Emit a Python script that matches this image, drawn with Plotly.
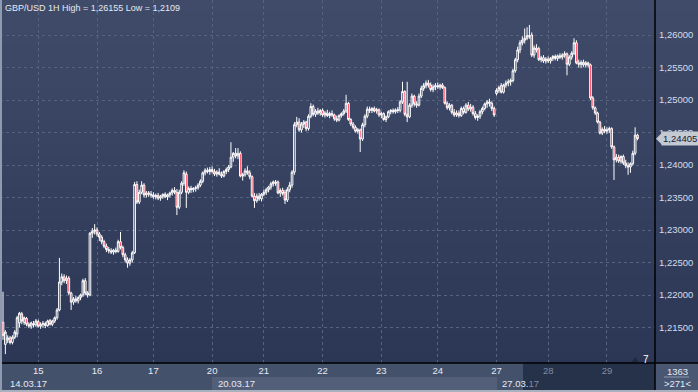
import plotly.graph_objects as go

# ---------------- DATA (GBP/USD, 1H bars, 14.03.17 - 29.03.17) ----------------
opens = [
    1.2158,1.2124,1.2131,1.2134,1.2127,1.2135,1.2140,1.2157,1.2171,1.2158,1.2164,1.2155,1.2152,1.2156,1.2154,
    1.2159,1.2152,1.2155,1.2156,1.2153,1.2161,1.2155,1.2160,1.2165,1.2177,1.2220,1.2228,1.2222,1.2226,1.2203,1.2189,1.2194,1.2191,1.2196,1.2200,1.2222,1.2203,1.2200,1.2295,1.2298,
    1.2300,1.2294,1.2289,1.2282,1.2275,1.2270,1.2268,1.2266,1.2269,1.2267,1.2282,1.2273,1.2262,1.2254,1.2249,1.2254,1.2265,1.2370,1.2343,1.2358,1.2369,1.2354,1.2357,1.2355,
    1.2354,1.2351,1.2353,1.2349,1.2352,1.2355,1.2351,1.2354,1.2357,1.2361,1.2358,1.2335,1.2358,1.2372,1.2386,1.2358,1.2364,1.2362,1.2364,1.2365,1.2369,1.2375,1.2388,1.2392,1.2390,
    1.2393,1.2390,1.2386,1.2389,1.2386,1.2383,1.2390,1.2393,1.2397,1.2412,1.2418,1.2414,1.2418,1.2383,1.2385,1.2391,1.2388,1.2382,1.2352,1.2345,1.2352,1.2348,
    1.2355,1.2358,1.2362,1.2366,1.2371,1.2374,1.2374,1.2357,1.2361,1.2358,1.2346,1.2362,1.2369,1.2389,1.2462,1.2466,1.2454,1.2463,1.2466,1.2456,1.2475,1.2490,1.2478,1.2483,1.2480,
    1.2484,1.2477,1.2480,1.2476,1.2479,1.2477,1.2471,1.2469,1.2476,1.2479,1.2483,1.2495,1.2470,1.2463,1.2458,1.2452,1.2454,1.2440,1.2462,1.2475,1.2486,1.2484,1.2487,1.2483,1.2485,
    1.2477,1.2479,1.2470,1.2474,1.2482,1.2484,1.2482,1.2485,1.2484,1.2497,1.2513,1.2478,1.2474,1.2492,1.2506,1.2494,1.2492,1.2506,1.2518,1.2522,1.2526,1.2523,1.2516,1.2520,
    1.2522,1.2520,1.2523,1.2519,1.2495,1.2488,1.2492,1.2481,1.2477,1.2480,1.2476,1.2487,1.2481,1.2492,1.2486,1.2489,1.2479,1.2473,1.2475,1.2482,1.2487,1.2494,1.2497,1.2495,1.2487,
    1.2510,1.2515,1.2522,1.2512,1.2523,1.2526,1.2528,1.2530,1.2545,1.2562,1.2577,1.2588,1.2592,1.2595,1.2599,1.2600,1.2569,1.2580,1.2579,1.2562,1.2565,1.2560,
    1.2563,1.2560,1.2564,1.2567,1.2564,1.2568,1.2566,1.2569,1.2571,1.2555,1.2566,1.2572,1.2588,1.2557,1.2555,1.2558,1.2554,1.2557,1.2554,1.2503,1.2488,1.2480,1.2466,1.2449,1.2455,
    1.2452,1.2454,1.2456,1.2428,1.2408,1.2412,1.2406,1.2413,1.2403,1.2399,1.2397,1.2402,1.2418,1.2446,
]
highs = [
    1.2205,1.2146,1.2138,1.2137,1.2138,1.2146,1.2168,1.2174,1.2174,1.2167,1.2166,1.2158,1.2159,1.2160,1.2163,
    1.2162,1.2158,1.2160,1.2159,1.2162,1.2163,1.2162,1.2167,1.2180,1.2257,1.2233,1.2232,1.2230,1.2229,1.2205,1.2197,1.2199,1.2198,1.2202,1.2225,1.2226,1.2206,1.2297,1.2303,1.2309,
    1.2304,1.2297,1.2292,1.2285,1.2279,1.2274,1.2272,1.2271,1.2273,1.2285,1.2297,1.2276,1.2265,1.2258,1.2257,1.2268,1.2374,1.2375,1.2362,1.2375,1.2372,1.2360,1.2360,1.2360,
    1.2358,1.2356,1.2357,1.2354,1.2356,1.2358,1.2356,1.2359,1.2364,1.2366,1.2363,1.2362,1.2375,1.2392,1.2390,1.2367,1.2368,1.2366,1.2368,1.2372,1.2378,1.2390,1.2395,1.2396,1.2397,
    1.2398,1.2394,1.2392,1.2395,1.2390,1.2392,1.2396,1.2400,1.2435,1.2420,1.2426,1.2426,1.2421,1.2388,1.2395,1.2398,1.2392,1.2384,1.2357,1.2356,1.2357,1.2357,
    1.2362,1.2365,1.2368,1.2374,1.2376,1.2377,1.2376,1.2364,1.2365,1.2362,1.2366,1.2374,1.2392,1.2466,1.2474,1.2472,1.2466,1.2469,1.2468,1.2478,1.2495,1.2493,1.2486,1.2488,1.2486,
    1.2487,1.2483,1.2485,1.2482,1.2484,1.2479,1.2476,1.2478,1.2481,1.2486,1.2508,1.2497,1.2472,1.2466,1.2461,1.2457,1.2456,1.2465,1.2478,1.2490,1.2490,1.2489,1.2490,1.2488,1.2487,
    1.2482,1.2481,1.2476,1.2484,1.2486,1.2487,1.2487,1.2489,1.2500,1.2528,1.2515,1.2528,1.2495,1.2510,1.2508,1.2498,1.2510,1.2522,1.2526,1.2530,1.2531,1.2527,1.2524,1.2526,
    1.2527,1.2525,1.2526,1.2521,1.2498,1.2495,1.2494,1.2486,1.2484,1.2484,1.2490,1.2490,1.2495,1.2497,1.2494,1.2492,1.2483,1.2478,1.2485,1.2490,1.2496,1.2500,1.2502,1.2498,1.2490,
    1.2518,1.2522,1.2526,1.2525,1.2530,1.2532,1.2533,1.2548,1.2565,1.2582,1.2592,1.2598,1.2610,1.2612,1.26155,1.2604,1.2584,1.2586,1.2582,1.2568,1.2569,1.2566,
    1.2567,1.2566,1.2569,1.2570,1.2570,1.2572,1.2572,1.2575,1.2573,1.2569,1.2575,1.2595,1.2592,1.2562,1.2561,1.2562,1.2560,1.2559,1.2556,1.2506,1.2490,1.2482,1.2468,1.2458,1.2460,
    1.2458,1.2459,1.2458,1.2430,1.2417,1.2416,1.2415,1.2416,1.2408,1.2404,1.2404,1.2422,1.2458,1.2448,
]
lows = [
    1.2131,1.2109,1.2126,1.2124,1.2124,1.2132,1.2135,1.2150,1.2155,1.2154,1.2152,1.2149,1.2148,1.2150,1.2151,
    1.2150,1.2148,1.2150,1.2149,1.2151,1.2153,1.2152,1.2157,1.2162,1.2175,1.2215,1.2218,1.2217,1.2200,1.2177,1.2185,1.2188,1.2187,1.2192,1.2197,1.2200,1.2196,1.2198,1.2288,1.2293,
    1.2290,1.2283,1.2278,1.2272,1.2266,1.2264,1.2263,1.2262,1.2264,1.2265,1.2270,1.2258,1.2250,1.2242,1.2245,1.2250,1.2263,1.2340,1.2340,1.2355,1.2350,1.2350,1.2351,1.2350,
    1.2348,1.2347,1.2346,1.2345,1.2348,1.2349,1.2346,1.2350,1.2353,1.2355,1.2323,1.2332,1.2355,1.2368,1.2334,1.2355,1.2357,1.2358,1.2359,1.2362,1.2366,1.2372,1.2384,1.2387,1.2385,
    1.2387,1.2383,1.2382,1.2384,1.2380,1.2381,1.2386,1.2389,1.2395,1.2405,1.2410,1.2409,1.2381,1.2376,1.2382,1.2385,1.2378,1.2350,1.2334,1.2342,1.2345,1.2344,
    1.2352,1.2354,1.2358,1.2362,1.2367,1.2368,1.2355,1.2351,1.2353,1.2340,1.2343,1.2358,1.2365,1.2385,1.2458,1.2451,1.2450,1.2457,1.2452,1.2453,1.2472,1.2475,1.2474,1.2477,1.2476,
    1.2474,1.2473,1.2474,1.2472,1.2474,1.2468,1.2466,1.2467,1.2473,1.2476,1.2480,1.2468,1.2460,1.2455,1.2450,1.2448,1.2420,1.2437,1.2458,1.2472,1.2480,1.2480,1.2481,1.2479,1.2474,
    1.2472,1.2468,1.2466,1.2472,1.2478,1.2479,1.2479,1.2480,1.2481,1.2494,1.2475,1.2466,1.2472,1.2488,1.2490,1.2488,1.2490,1.2503,1.2514,1.2518,1.2519,1.2513,1.2512,1.2515,
    1.2517,1.2516,1.2517,1.2493,1.2485,1.2484,1.2478,1.2474,1.2474,1.2473,1.2474,1.2478,1.2479,1.2483,1.2482,1.2476,1.2470,1.2468,1.2471,1.2478,1.2484,1.2488,1.2490,1.2483,1.2474,
    1.2507,1.2511,1.2510,1.2510,1.2519,1.2521,1.2522,1.2527,1.2542,1.2558,1.2572,1.2584,1.2587,1.2592,1.2594,1.2566,1.2565,1.2573,1.2560,1.2558,1.2557,1.2556,
    1.2557,1.2556,1.2560,1.2561,1.2560,1.2563,1.2562,1.2565,1.2538,1.2552,1.2562,1.2569,1.2555,1.2550,1.2549,1.2551,1.2550,1.2550,1.2500,1.2485,1.2477,1.2464,1.2447,1.2446,1.2449,
    1.2448,1.2449,1.2425,1.2377,1.2404,1.2403,1.2402,1.2400,1.2395,1.2385,1.2388,1.2399,1.2415,1.2438,
]
closes = [
    1.2138,1.2143,1.2134,1.2127,1.2135,1.2143,1.2165,1.2172,1.2160,1.2165,1.2155,1.2152,1.2157,1.2154,1.2160,
    1.2152,1.2155,1.2156,1.2153,1.2160,1.2155,1.2160,1.2165,1.2177,1.2220,1.2228,1.2222,1.2226,1.2203,1.2189,1.2194,1.2191,1.2196,1.2200,1.2222,1.2203,1.2200,1.2295,1.2298,1.2300,
    1.2294,1.2289,1.2282,1.2275,1.2270,1.2268,1.2266,1.2269,1.2267,1.2282,1.2273,1.2262,1.2254,1.2249,1.2254,1.2265,1.2370,1.2343,1.2358,1.2369,1.2354,1.2357,1.2355,1.2354,
    1.2351,1.2353,1.2349,1.2352,1.2355,1.2351,1.2354,1.2357,1.2361,1.2358,1.2335,1.2358,1.2372,1.2388,1.2358,1.2364,1.2362,1.2364,1.2365,1.2369,1.2375,1.2388,1.2392,1.2390,1.2393,
    1.2390,1.2386,1.2389,1.2386,1.2383,1.2390,1.2393,1.2397,1.2412,1.2418,1.2414,1.2418,1.2383,1.2385,1.2391,1.2388,1.2382,1.2352,1.2345,1.2352,1.2348,1.2355,
    1.2358,1.2362,1.2366,1.2371,1.2374,1.2372,1.2357,1.2361,1.2356,1.2346,1.2362,1.2369,1.2389,1.2462,1.2466,1.2454,1.2463,1.2466,1.2456,1.2475,1.2490,1.2478,1.2483,1.2480,1.2484,
    1.2477,1.2480,1.2476,1.2479,1.2477,1.2471,1.2469,1.2476,1.2479,1.2483,1.2495,1.2470,1.2463,1.2458,1.2452,1.2454,1.2440,1.2462,1.2475,1.2486,1.2484,1.2487,1.2483,1.2485,1.2477,
    1.2479,1.2470,1.2474,1.2482,1.2484,1.2482,1.2485,1.2484,1.2497,1.2513,1.2478,1.2474,1.2492,1.2506,1.2494,1.2492,1.2506,1.2518,1.2522,1.2526,1.2523,1.2516,1.2520,1.2522,
    1.2520,1.2523,1.2519,1.2495,1.2488,1.2492,1.2481,1.2477,1.2480,1.2476,1.2487,1.2481,1.2492,1.2486,1.2489,1.2479,1.2473,1.2475,1.2482,1.2487,1.2494,1.2497,1.2495,1.2487,1.2477,
    1.2515,1.2519,1.2512,1.2523,1.2526,1.2528,1.2530,1.2545,1.2562,1.2577,1.2588,1.2592,1.2595,1.2599,1.2598,1.2569,1.2580,1.2577,1.2562,1.2565,1.2560,1.2563,
    1.2560,1.2564,1.2567,1.2564,1.2568,1.2566,1.2569,1.2571,1.2555,1.2566,1.2572,1.2588,1.2557,1.2555,1.2558,1.2554,1.2557,1.2554,1.2503,1.2488,1.2480,1.2466,1.2449,1.2455,1.2452,
    1.2454,1.2456,1.2428,1.2408,1.2412,1.2406,1.2413,1.2403,1.2399,1.2397,1.2402,1.2418,1.2446,1.24405,
]

# day boundaries (bar index where each day starts) and their labels
day_start_bars = [15, 40, 64, 89, 111, 136, 161, 185, 210, 232, 257]
day_labels = ["15", "16", "17", "20", "21", "22", "23", "24", "27", "28", "29"]
day_label_dim = [False] * 9 + [True, True]
week_labels = ["14.03.17", "20.03.17", "27.03.17"]
week_label_bars = [2, 90.5, 211.5]

price_ticks = [1.215, 1.220, 1.225, 1.230, 1.235, 1.240, 1.245, 1.250, 1.255, 1.260]
price_tick_text = ["1,21500", "1,22000", "1,22500", "1,23000", "1,23500",
                   "1,24000", "1,24500", "1,25000", "1,25500", "1,26000"]

title_text = "GBP/USD 1H High = 1,26155 Low = 1,2109"
counter_text = "1363"
scale_text = "7"

# ---------------- LAYOUT HELPERS ----------------
W, H = 698, 392
AXIS_X = 655   # px, right edge of plot area
AXIS_Y = 363   # px, bottom edge of plot area


def px(x):
    return x / W


def py(y):
    return 1 - y / H


FONT = "Liberation Sans, Arial, sans-serif"
TXT = "#e4eaf4"
DIM = "#7f8ba2"

n = len(closes)
fig = go.Figure()
fig.add_trace(go.Candlestick(
    x=list(range(n)), open=opens, high=highs, low=lows, close=closes,
    increasing=dict(line=dict(color="#ffffff", width=1), fillcolor="rgba(0,0,0,0)"),
    decreasing=dict(line=dict(color="#ffffff", width=1), fillcolor="#ff1030"),
    whiskerwidth=0, hoverinfo="skip", showlegend=False,
))

shapes = []
# vertical gradient background of the chart area (incl. price scale)
top = (0x3f, 0x4b, 0x68)
bot = (0x2b, 0x37, 0x55)
nb = 33
for i in range(nb):
    t = i / (nb - 1)
    c = tuple(round(top[k] + (bot[k] - top[k]) * t) for k in range(3))
    y0 = AXIS_Y * i / nb
    y1 = AXIS_Y * (i + 1) / nb + 0.6
    shapes.append(dict(type="rect", xref="paper", yref="paper", x0=0, x1=1,
                       y0=py(y1), y1=py(y0), fillcolor="rgb(%d,%d,%d)" % c,
                       line=dict(width=0), layer="below"))

# bottom strip boxes (below axis labels)
shapes.append(dict(type="rect", xref="paper", yref="paper", x0=px(212), x1=px(497),
                   y0=py(390), y1=py(377), fillcolor="#535f79", line=dict(width=0), layer="below"))
shapes.append(dict(type="rect", xref="paper", yref="paper", x0=px(523), x1=px(AXIS_X),
                   y0=py(390), y1=py(AXIS_Y), fillcolor="#263249", line=dict(width=0), layer="below"))
shapes.append(dict(type="rect", xref="paper", yref="paper", x0=px(AXIS_X), x1=1,
                   y0=py(390), y1=py(AXIS_Y), fillcolor="#4a5772", line=dict(width=0), layer="below"))
# frame lines
shapes.append(dict(type="line", xref="paper", yref="paper", x0=0, x1=1, y0=py(AXIS_Y), y1=py(AXIS_Y),
                   line=dict(color="#000000", width=1.5), layer="above"))
shapes.append(dict(type="line", xref="paper", yref="paper", x0=px(AXIS_X), x1=px(AXIS_X), y0=py(390), y1=1,
                   line=dict(color="#000000", width=1.5), layer="above"))
shapes.append(dict(type="rect", xref="paper", yref="paper", x0=0, x1=px(2), y0=py(390), y1=1,
                   fillcolor="#8e9ab0", line=dict(width=0), layer="above"))
shapes.append(dict(type="rect", xref="paper", yref="paper", x0=0, x1=1, y0=0, y1=py(390),
                   fillcolor="#aab1be", line=dict(width=0), layer="above"))
# divider under counter
shapes.append(dict(type="line", xref="paper", yref="paper", x0=px(664), x1=px(689), y0=py(377), y1=py(377),
                   line=dict(color="#8c97ad", width=1), layer="above"))
# small scale triangle
shapes.append(dict(type="path", xref="paper", yref="paper",
                   path="M %f,%f L %f,%f L %f,%f Z" % (px(632), py(362), px(638.5), py(362), px(635.2), py(357)),
                   fillcolor="#1f293b", line=dict(width=0), layer="above"))
# last price tag arrow
shapes.append(dict(type="path", xref="paper", yref="y", xsizemode="pixel", ysizemode="pixel",
                   xanchor=px(AXIS_X + 1), yanchor=closes[-1], path="M 0,0 L 6,6 L 6,-6 Z",
                   fillcolor="#c4c9d2", line=dict(width=0), layer="above"))

annotations = []
annotations.append(dict(xref="paper", yref="paper", x=px(3), y=py(8), xanchor="left", yanchor="middle",
                        text=title_text, showarrow=False, font=dict(family=FONT, size=9, color=TXT)))
for lbl, b in zip(week_labels, week_label_bars):
    t = lbl
    if lbl == week_labels[-1]:
        t = lbl[:6] + "<span style='color:%s'>%s</span>" % (DIM, lbl[6:])
    annotations.append(dict(xref="x", yref="paper", x=b, y=py(383.5), xanchor="left", yanchor="middle",
                            text=t, showarrow=False, font=dict(family=FONT, size=9.5, color=TXT)))
annotations.append(dict(xref="paper", yref="paper", x=px(677), y=py(371), xanchor="center", yanchor="middle",
                        text=counter_text, showarrow=False, font=dict(family=FONT, size=9.5, color=TXT)))
annotations.append(dict(xref="paper", yref="paper", x=px(677), y=py(383.5), xanchor="center", yanchor="middle",
                        text="&gt;%d&lt;" % n, showarrow=False, font=dict(family=FONT, size=9.5, color=TXT)))
annotations.append(dict(xref="paper", yref="paper", x=px(641), y=py(359), xanchor="left", yanchor="middle",
                        text=scale_text, showarrow=False, font=dict(family=FONT, size=10, color="#ffffff")))
last_txt = ("%.5f" % closes[-1]).replace(".", ",")
annotations.append(dict(xref="paper", yref="y", x=px(661), y=closes[-1], xanchor="left", yanchor="middle",
                        text=last_txt, showarrow=False, bgcolor="#c4c9d2", borderpad=1,
                        font=dict(family=FONT, size=9.5, color="#1a2030")))

tick_text = ["<span style='color:%s'>%s</span>" % (DIM, l) if d else l
             for l, d in zip(day_labels, day_label_dim)]

fig.update_layout(
    width=W, height=H, margin=dict(l=0, r=0, t=0, b=0),
    paper_bgcolor="#44516b", plot_bgcolor="rgba(0,0,0,0)",
    boxgap=0.0, showlegend=False, hovermode=False,
    shapes=shapes, annotations=annotations,
    xaxis=dict(domain=[0, px(AXIS_X)], range=[-1.28, 277.45], rangeslider=dict(visible=False),
               tickmode="array", tickvals=day_start_bars, ticktext=tick_text,
               showgrid=True, gridcolor="#56637e", griddash="3px,3px", gridwidth=1,
               zeroline=False, showline=False, ticks="",
               tickfont=dict(family=FONT, size=9.5, color=TXT), fixedrange=True),
    yaxis=dict(domain=[py(AXIS_Y), 1], range=[1.209538, 1.265385], side="right",
               tickmode="array", tickvals=price_ticks, ticktext=price_tick_text,
               showgrid=True, gridcolor="#56637e", griddash="3px,3px", gridwidth=1,
               zeroline=False, showline=False, ticks="", ticklabelstandoff=3,
               tickfont=dict(family=FONT, size=9.5, color="#d3ddef"), fixedrange=True),
)

fig.write_html("out.html", config={"displayModeBar": False},
               post_script="document.body.style.margin='0';document.body.style.padding='0';"
                           "document.body.style.overflow='hidden';")
